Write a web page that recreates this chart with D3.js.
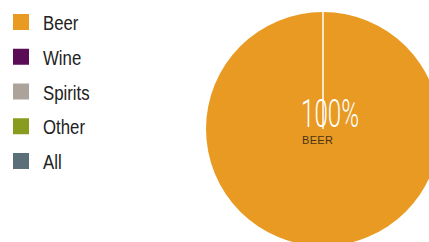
<!DOCTYPE html>
<html>
<head>
<meta charset="utf-8">
<script src="https://cdn.jsdelivr.net/npm/d3@7"></script>
<style>
  body { margin: 0; background: #fff; }
  svg { display: block; }
</style>
</head>
<body>
<div id="chart"></div>
<script>
const categories = ['Beer', 'Wine', 'Spirits', 'Other', 'All'];
const colors = ['#e89a23', '#5a0c57', '#aca39a', '#8a9c1f', '#5b6f7b'];
const shares = [100, 0, 0, 0]; // Beer, Wine, Spirits, Other

const width = 429;
const height = 242;

const svg = d3.select('#chart')
  .append('svg')
  .attr('width', width)
  .attr('height', height);

const color = d3.scaleOrdinal().domain(categories).range(colors);

// legend
const legendY = d3.scalePoint().domain(categories).range([22, 161]);

const legend = svg.append('g').attr('class', 'legend');
const item = legend.selectAll('g')
  .data(categories)
  .join('g')
  .attr('transform', d => `translate(13, ${legendY(d)})`);

item.append('rect')
  .attr('x', 0)
  .attr('y', -8)
  .attr('width', 16)
  .attr('height', 16)
  .attr('fill', d => color(d));

// condensed look: squeeze Liberation Sans horizontally
item.append('text')
  .attr('transform', 'translate(30, 8) scale(0.8, 1)')
  .attr('font-family', '"Liberation Sans", sans-serif')
  .attr('font-size', 21)
  .attr('fill', '#222')
  .text(d => d);

// pie
const cx = 323, cy = 129, r = 117;
const pieData = categories.slice(0, 4).map((c, i) => ({ cat: c, value: shares[i] }));

const pie = d3.pie().sort(null).value(d => d.value);
const arc = d3.arc().innerRadius(0).outerRadius(r);
const slices = pie(pieData).filter(d => d.data.value > 0);

const g = svg.append('g').attr('transform', `translate(${cx}, ${cy})`);

g.selectAll('path')
  .data(slices)
  .join('path')
  .attr('d', arc)
  .attr('fill', d => color(d.data.cat));

// white separators at slice edges
g.selectAll('line.sep')
  .data(slices)
  .join('line')
  .attr('class', 'sep')
  .attr('x1', 0)
  .attr('y1', 0)
  .attr('x2', d => r * Math.sin(d.startAngle))
  .attr('y2', d => -r * Math.cos(d.startAngle))
  .attr('stroke', '#fff')
  .attr('stroke-width', 1.5);

// center label
const biggest = pieData.reduce((a, b) => (b.value > a.value ? b : a));

g.append('text')
  .attr('x', -22)
  .attr('y', -2)
  .attr('font-family', 'Roboto, sans-serif')
  .attr('font-weight', 300)
  .attr('font-size', 38)
  .attr('textLength', 58)
  .attr('lengthAdjust', 'spacingAndGlyphs')
  .attr('fill', '#fff')
  .text(biggest.value + '%');

g.append('text')
  .attr('x', -21)
  .attr('y', 15)
  .attr('font-family', '"Liberation Sans", sans-serif')
  .attr('font-size', 11)
  .attr('letter-spacing', 0.3)
  .attr('fill', '#4a3514')
  .text(biggest.cat.toUpperCase());
</script>
</body>
</html>
